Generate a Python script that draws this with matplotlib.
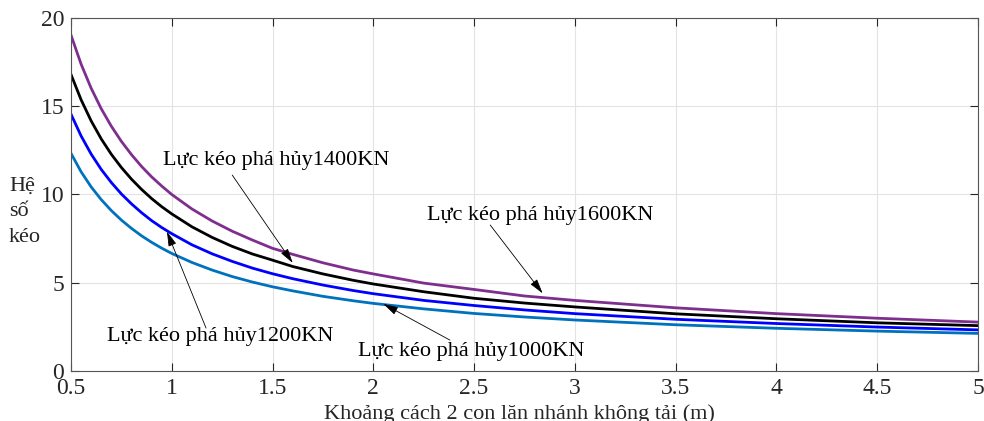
import matplotlib
matplotlib.use("Agg")
import matplotlib.pyplot as plt

# Distance between two idler rollers (m)
x = [0.5, 0.55, 0.6, 0.65, 0.7, 0.75, 0.8, 0.85, 0.9, 0.95, 1.0, 1.1, 1.2, 1.3, 1.4,
     1.5, 1.6, 1.75, 1.9, 2.0, 2.25, 2.5, 2.75, 3.0, 3.5, 4.0, 4.5, 5.0]

# Traction coefficient for each breaking force
k_1600 = [19.03, 17.39, 16.02, 14.86, 13.87, 13.01, 12.26, 11.59, 11.00, 10.48, 10.00,
          9.18, 8.50, 7.92, 7.42, 6.95, 6.61, 6.13, 5.72, 5.50, 4.98, 4.62, 4.25, 4.00,
          3.58, 3.25, 2.99, 2.77]
k_1400 = [16.80, 15.37, 14.17, 13.15, 12.28, 11.53, 10.87, 10.29, 9.77, 9.31, 8.90,
          8.17, 7.57, 7.06, 6.63, 6.28, 5.92, 5.50, 5.14, 4.93, 4.49, 4.12, 3.85, 3.63,
          3.24, 2.96, 2.73, 2.57]
k_1200 = [14.55, 13.32, 12.29, 11.42, 10.68, 10.03, 9.47, 8.97, 8.52, 8.13, 7.78,
          7.15, 6.64, 6.21, 5.83, 5.51, 5.23, 4.87, 4.56, 4.38, 4.00, 3.71, 3.46, 3.25,
          2.93, 2.69, 2.49, 2.33]
k_1000 = [12.33, 11.29, 10.43, 9.71, 9.09, 8.55, 8.08, 7.66, 7.29, 6.96, 6.66,
          6.15, 5.72, 5.35, 5.04, 4.77, 4.54, 4.23, 3.98, 3.83, 3.52, 3.26, 3.06, 2.89,
          2.62, 2.42, 2.26, 2.13]

labels = ["Lực kéo phá hủy1600KN", "Lực kéo phá hủy1400KN",
          "Lực kéo phá hủy1200KN", "Lực kéo phá hủy1000KN"]
xticks = [0.5, 1, 1.5, 2, 2.5, 3, 3.5, 4, 4.5, 5]
xticklabels = ["0.5", "1", "1.5", "2", "2.5", "3", "3.5", "4", "4.5", "5"]
yticks = [0, 5, 10, 15, 20]

plt.rcParams['font.family'] = ['Liberation Serif', 'DejaVu Serif']

fig = plt.figure(figsize=(9.84, 4.21), dpi=100)
ax = fig.add_axes([71/984, 1 - 371/421, (978-71)/984, (371-18)/421])

lw = 2.0
ax.plot(x, k_1000, color='#0072BD', lw=lw)
ax.plot(x, k_1200, color='#0000FF', lw=lw)
ax.plot(x, k_1400, color='#000000', lw=lw)
ax.plot(x, k_1600, color='#7E2F8E', lw=lw)

ax.set_xlim(0.5, 5)
ax.set_ylim(0, 20)
ax.set_xticks(xticks)
ax.set_xticklabels(xticklabels)
ax.set_yticks(yticks)
ax.grid(True, color='#e3e3e3', lw=0.8)
ax.set_axisbelow(True)
ax.tick_params(direction='in', top=True, right=True, labelsize=17,
               colors='#262626', length=6, width=0.8, pad=5)
for s in ax.spines.values():
    s.set_color('#555555')
    s.set_linewidth(0.8)

ax.set_xlabel("Khoảng cách 2 con lăn nhánh không tải (m)", fontsize=16,
              color='#262626', labelpad=0)
ax.xaxis.set_label_coords(0.494, -0.095)
fig.text(9/984, 1 - 212/421, "Hệ\nsố\nkéo", fontsize=16,
         ha='left', va='center', linespacing=1.45, color='#262626')

ap = dict(arrowstyle='-|>,head_length=0.9,head_width=0.25', lw=0.6,
          color='black', shrinkA=0, shrinkB=0)
fs = 16
ax.text(1.52, 11.95, labels[1], fontsize=fs, ha='center', va='center')
ax.annotate("", xy=(1.60, 6.12), xytext=(1.30, 11.1), arrowprops=ap)

ax.text(2.83, 8.83, labels[0], fontsize=fs, ha='center', va='center')
ax.annotate("", xy=(2.84, 4.40), xytext=(2.58, 8.27), arrowprops=ap)

ax.text(1.24, 1.98, labels[2], fontsize=fs, ha='center', va='center')
ax.annotate("", xy=(0.976, 7.90), xytext=(1.17, 2.43), arrowprops=ap)

ax.text(2.485, 1.13, labels[3], fontsize=fs, ha='center', va='center')
ax.annotate("", xy=(2.05, 3.80), xytext=(2.38, 1.75), arrowprops=ap)

fig.savefig("out.png", dpi=100)
